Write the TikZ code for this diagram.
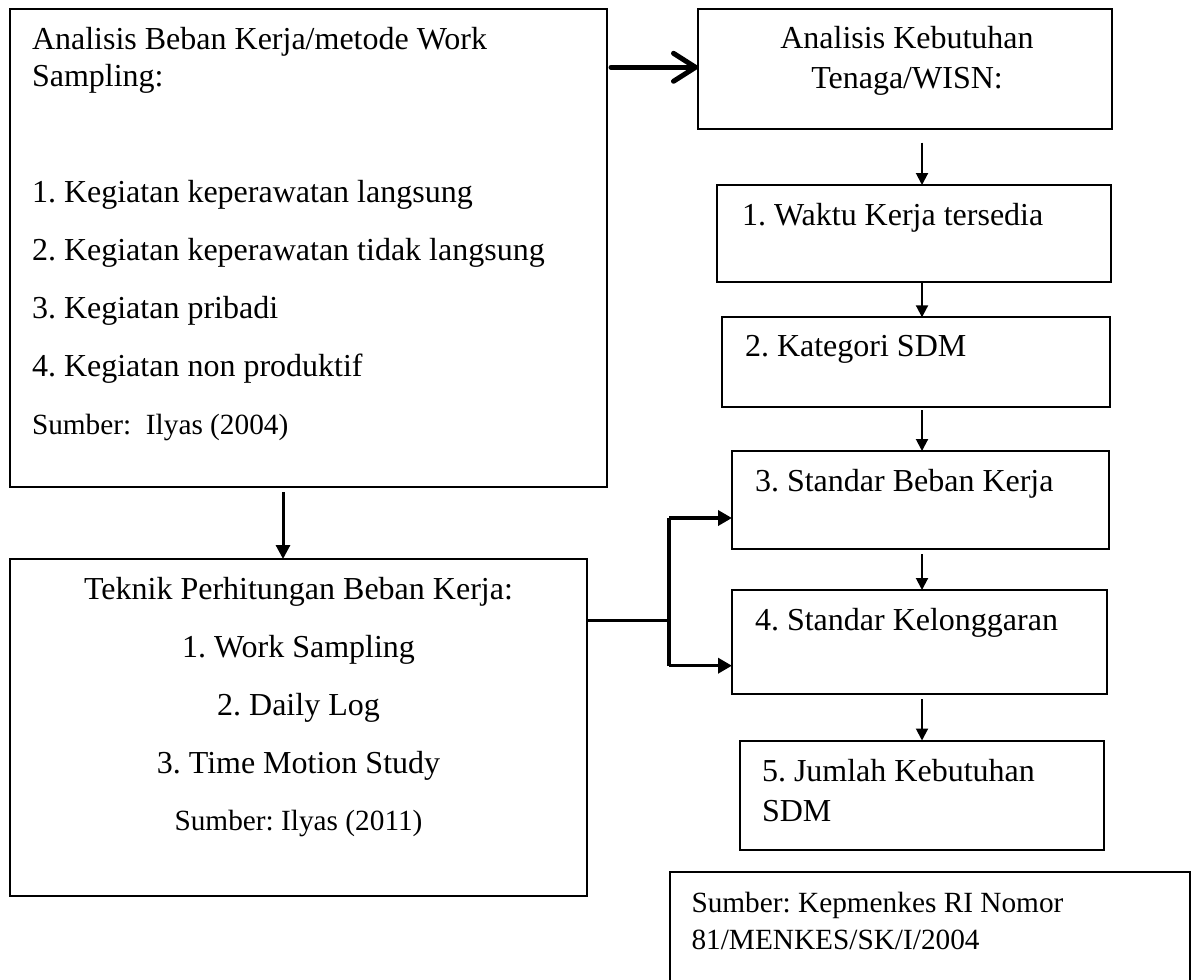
\documentclass[tikz,border=0pt]{standalone}
\usepackage{fontspec}
\setmainfont{Liberation Serif}
\usetikzlibrary{arrows.meta}
\frenchspacing
\tikzset{
  box/.style={draw, line width=2pt, inner sep=0pt, outer sep=0pt},
  txt/.style={inner sep=0pt, outer sep=0pt, anchor=base west, font=\fontsize{32}{38}\selectfont\frenchspacing},
  ctxt/.style={txt, anchor=base},
  small/.style={font=\fontsize{29.3}{35}\selectfont\frenchspacing},
  thinarrow/.style={line width=2pt, -{Triangle[length=12pt,width=12pt]}},
  midarrow/.style={line width=3pt, -{Triangle[length=14pt,width=14pt]}},
  brline/.style={line width=3.5pt},
  brarrow/.style={line width=3.5pt, -{Triangle[length=14pt,width=15pt]}},
  bigarrow/.style={line width=5pt, line cap=round, -{Straight Barb[length=22pt,width=28pt,round]}}
}
\begin{document}
\begin{tikzpicture}[x=1pt,y=-1pt]
\clip (0,0) rectangle (1197,980);
\fill[white] (0,0) rectangle (1197,980);
% boxes
\node[box, minimum width=597pt, minimum height=478.5pt] (b1) at (308.5,247.75) {};
\node[box, minimum width=414pt, minimum height=120.5pt] (b2) at (905,68.75) {};
\node[box, minimum width=394pt, minimum height=96.7pt] (w1) at (914,233.35) {};
\node[box, minimum width=388pt, minimum height=90pt] (w2) at (916,362.3) {};
\node[box, minimum width=377pt, minimum height=97.5pt] (w3) at (920.5,499.75) {};
\node[box, minimum width=375pt, minimum height=103.5pt] (w4) at (919.5,641.75) {};
\node[box, minimum width=364.5pt, minimum height=109pt] (w5) at (921.75,795) {};
\node[box, minimum width=576.7pt, minimum height=336.7pt] (tk) at (298.35,727.35) {};
\node[box, minimum width=520.5pt, minimum height=138pt] (kp) at (929.75,941) {};
% texts box 1
\node[txt] (t11) at (32,49.3) {Analisis Beban Kerja/metode Work};
\node[txt] (t12) at (32,86) {Sampling:};
\node[txt] (t13) at (32,202.7) {1. Kegiatan keperawatan langsung};
\node[txt] (t14) at (32,260) {2. Kegiatan keperawatan tidak langsung};
\node[txt] (t15) at (32,318) {3. Kegiatan pribadi};
\node[txt] (t16) at (32,376.7) {4. Kegiatan non produktif};
\node[txt, small] (t17) at (32,434) {Sumber:\ \ Ilyas (2004)};
% box 2
\node[ctxt] (t21) at (907,48) {Analisis Kebutuhan};
\node[ctxt] (t22) at (907,88) {Tenaga/WISN:};
% steps
\node[txt] (tw1) at (742,225) {1. Waktu Kerja tersedia};
\node[txt] (tw2) at (745,356.7) {2. Kategori SDM};
\node[txt] (tw3) at (755,491) {3. Standar Beban Kerja};
\node[txt] (tw4) at (755,630) {4. Standar Kelonggaran};
\node[txt] (tw5a) at (762,781) {5. Jumlah Kebutuhan};
\node[txt] (tw5b) at (762,821.6) {SDM};
% teknik
\node[ctxt] (tt1) at (298.5,599) {Teknik Perhitungan Beban Kerja:};
\node[ctxt] (tt2) at (298.5,657) {1. Work Sampling};
\node[ctxt] (tt3) at (298.5,715) {2. Daily Log};
\node[ctxt] (tt4) at (298.5,773.3) {3. Time Motion Study};
\node[ctxt, small] (tt5) at (298.5,830.7) {Sumber: Ilyas (2011)};
% kepmenkes
\node[txt, small] (tk1) at (691.5,912) {Sumber: Kepmenkes RI Nomor};
\node[txt, small] (tk2) at (691.5,949) {81/MENKES/SK/I/2004};
% connectors
\coordinate (s1) at (611,67.3);
\draw[bigarrow] (s1) -- (s1 -| b2.west);
\coordinate (d0) at (283,492);
\draw[midarrow] (d0) -- (d0 |- tk.north);
\coordinate (d1) at (922,142.7);
\draw[thinarrow] (d1) -- (d1 |- w1.north);
\coordinate (d2) at (922,282.5);
\draw[thinarrow] (d2) -- (d2 |- w2.north);
\coordinate (d3) at (922,410);
\draw[thinarrow] (d3) -- (d3 |- w3.north);
\coordinate (d4) at (922,554);
\draw[thinarrow] (d4) -- (d4 |- w4.north);
\coordinate (d5) at (922,699);
\draw[thinarrow] (d5) -- (d5 |- w5.north);
\coordinate (bj) at (669,620.7);
\coordinate (bu) at (669,518);
\coordinate (bd) at (669,665.7);
\draw[brline] (tk.east |- bj) -- (bj);
\draw[brline] (bu) -- (bd);
\draw[brarrow] (bu) -- (bu -| w3.west);
\draw[brarrow] (bd) -- (bd -| w4.west);
\end{tikzpicture}
\end{document}
